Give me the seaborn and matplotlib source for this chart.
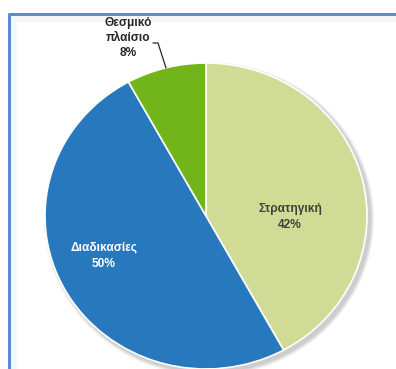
import matplotlib
matplotlib.use("Agg")
import matplotlib.pyplot as plt
import seaborn as sns
from matplotlib.patches import Ellipse

sns.set_style("white")
plt.rcParams['font.family'] = ['Liberation Sans', 'DejaVu Sans']

# δεδομένα
labels = ['Στρατηγική', 'Διαδικασίες', 'Θεσμικό\nπλαίσιο']
values = [42, 50, 8]
colors = ['#D0DC96', '#2878BE', '#72B51A']

W, H = 396, 369
fig = plt.figure(figsize=(W / 100, H / 100), dpi=100)
ax = fig.add_axes([0, 0, 1, 1])

# κέντρο πίτας σε pixel και κλίμακα (ελαφρώς οβάλ όπως στο excel)
px, py = 206, 216
sx, sy = 161, 153

def pos(x, y):
    # pixel -> συντεταγμένες δεδομένων
    return (x - px) / sx, (py - y) / sy

# σκιά πίτας
for k in range(4):
    ax.add_patch(Ellipse((3 / sx, -3 / sy), 2 + (2 + 2 * k) / sx, 2 + (2 + 2 * k) / sy,
                         color='black', alpha=0.05, lw=0, zorder=0))

wedges, _ = ax.pie(values, colors=colors, startangle=90, counterclock=False,
                   radius=1, wedgeprops=dict(edgecolor='white', linewidth=1.2))
for w in wedges:
    w.set_zorder(2)

ax.set_aspect('auto')
ax.set_xlim(-px / sx, (W - px) / sx)
ax.set_ylim(-(H - py) / sy, py / sy)
ax.axis('off')

# ετικέτες
fs = 8.6
ax.text(*pos(290, 217), labels[0] + '\n' + f'{values[0]}%', ha='center', va='center',
        fontsize=fs, fontweight='bold', color='#404040', linespacing=1.5, zorder=3)
ax.text(*pos(104, 256), labels[1] + '\n' + f'{values[1]}%', ha='center', va='center',
        fontsize=fs, fontweight='bold', color='white', linespacing=1.5, zorder=3)
ax.text(*pos(128, 38), labels[2] + '\n' + f'{values[2]}%', ha='center', va='center',
        fontsize=fs, fontweight='bold', color='#262626', linespacing=1.3, zorder=3)
lx, ly = zip(pos(153, 43), pos(158, 43), pos(166, 68))
ax.plot(lx, ly, color='#262626', lw=0.9, zorder=3)

# πλαίσιο με εσωτερική σκιά
for k in range(6):
    x0, y0 = pos(11 + k, 0)
    x1, y1 = pos(11 + k, 16 + k)
    x2, _ = pos(W, 0)
    ax.plot([x0, x1, x2], [pos(0, H)[1], y1, y1], color='black', alpha=0.025, lw=1, zorder=1)
bx, by = zip(pos(9, H), pos(9, 14), pos(W, 14))
ax.plot(bx, by, color='#5B8BD6', lw=2.2, zorder=4)

fig.savefig('out.png', dpi=100)
